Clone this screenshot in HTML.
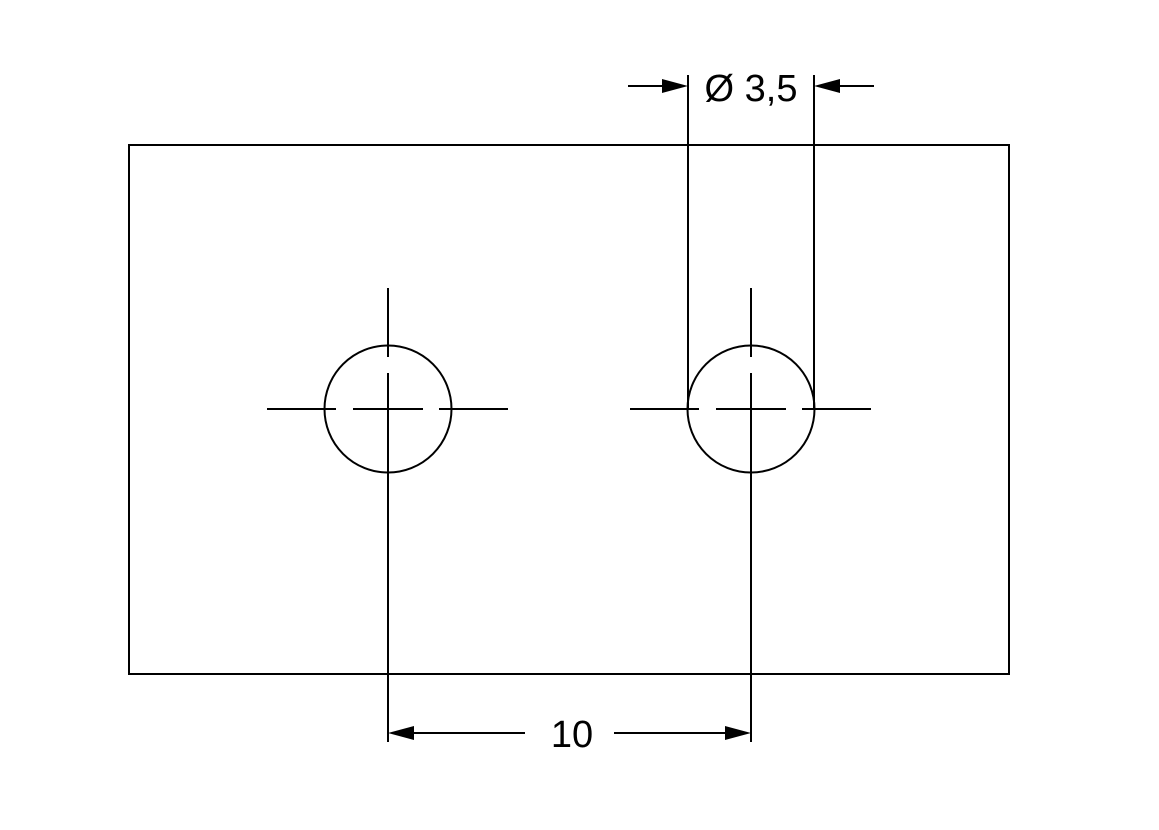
<!DOCTYPE html>
<html><head><style>body{margin:0;background:#fff}</style></head><body>
<svg width="1159" height="825" xmlns="http://www.w3.org/2000/svg">
<g stroke="#000" stroke-width="2" fill="none">
<rect x="129" y="145" width="880" height="529"/>
<circle cx="388" cy="409" r="63.5"/>
<circle cx="751" cy="409" r="63.5"/>
<path d="M388 288V357M388 373V742M267 409H336M353 409H423M439 409H508"/>
<path d="M751 288V357M751 373V742M630 409H699M716 409H786M802 409H871"/>
<path d="M688 75V409M814 75V409"/>
<path d="M628 86H665M837 86H874"/>
<path d="M413 733H525M614 733H726"/>
</g>
<g fill="#000">
<polygon points="688,86 662,79 662,93"/>
<polygon points="814,86 840,79 840,93"/>
<polygon points="388,733 414,726 414,740"/>
<polygon points="751,733 725,726 725,740"/>
</g>
<g font-family="Liberation Sans, sans-serif" font-size="38" text-anchor="middle">
<text x="751" y="101">Ø 3,5</text>
<text x="572" y="747">10</text>
</g>
</svg>
</body></html>
